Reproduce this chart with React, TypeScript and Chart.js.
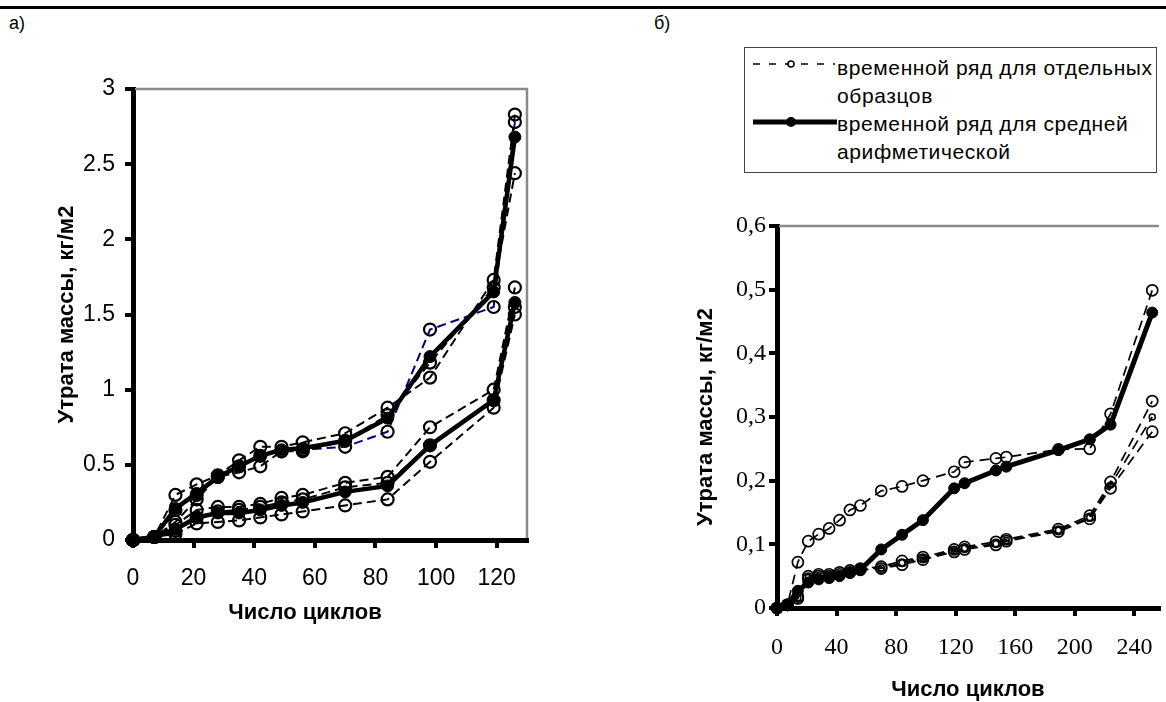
import React, { useEffect, useRef } from 'react';
import { Chart, registerables } from 'chart.js';

Chart.register(...registerables);

// ---------- Chart а) ----------
const cyclesA = [0, 7, 14, 21, 28, 35, 42, 49, 56, 70, 84, 98, 119, 126];
const upperA1 = [0, 0.02, 0.30, 0.37, 0.43, 0.53, 0.62, 0.62, 0.65, 0.71, 0.88, 1.08, 1.73, 2.83];
const upperA2 = [0, 0.02, 0.12, 0.27, 0.42, 0.45, 0.49, 0.59, 0.59, 0.66, 0.83, 1.18, 1.68, 2.44];
const upperA3 = [0, 0.02, 0.20, 0.30, 0.42, 0.49, 0.56, 0.59, 0.60, 0.62, 0.72, 1.40, 1.55, 2.78];
const upperMeanA = [0, 0.02, 0.21, 0.31, 0.42, 0.49, 0.56, 0.60, 0.61, 0.66, 0.81, 1.22, 1.65, 2.68];
const lowerA1 = [0, 0.02, 0.10, 0.20, 0.22, 0.22, 0.24, 0.28, 0.30, 0.38, 0.42, 0.75, 1.00, 1.68];
const lowerA2 = [0, 0.02, 0.06, 0.15, 0.19, 0.20, 0.22, 0.25, 0.27, 0.35, 0.38, 0.63, 0.93, 1.55];
const lowerA3 = [0, 0.02, 0.04, 0.11, 0.12, 0.13, 0.15, 0.17, 0.19, 0.23, 0.27, 0.52, 0.88, 1.50];
const lowerMeanA = [0, 0.02, 0.07, 0.15, 0.18, 0.18, 0.20, 0.23, 0.25, 0.32, 0.36, 0.63, 0.93, 1.58];
const xTicksA = [0, 20, 40, 60, 80, 100, 120];
const yTicksA = [0, 0.5, 1, 1.5, 2, 2.5, 3];
const yTickLabelsA = ['0', '0.5', '1', '1.5', '2', '2.5', '3'];

// ---------- Chart б) ----------
const cyclesB = [0, 7, 14, 21, 28, 35, 42, 49, 56, 70, 84, 98, 119, 126, 147, 154, 189, 210, 224, 252];
const upperB = [0, 0.005, 0.072, 0.105, 0.116, 0.125, 0.138, 0.154, 0.161, 0.184, 0.191, 0.200, 0.214, 0.229, 0.235, 0.237, 0.249, 0.250, 0.305, 0.499];
const lowerB1 = [0, 0.005, 0.015, 0.050, 0.053, 0.053, 0.056, 0.059, 0.062, 0.065, 0.074, 0.080, 0.092, 0.096, 0.104, 0.108, 0.124, 0.145, 0.198, 0.325];
const lowerB2 = [0, 0.005, 0.018, 0.046, 0.050, 0.050, 0.053, 0.056, 0.060, 0.062, 0.068, 0.076, 0.088, 0.092, 0.099, 0.105, 0.120, 0.140, 0.188, 0.277];
const lowerB3 = [0, 0.005, 0.016, 0.048, 0.051, 0.052, 0.054, 0.057, 0.061, 0.063, 0.071, 0.078, 0.090, 0.094, 0.101, 0.106, 0.122, 0.142, 0.193, 0.300];
const meanB = [0, 0.005, 0.027, 0.040, 0.045, 0.047, 0.050, 0.055, 0.060, 0.092, 0.115, 0.138, 0.188, 0.196, 0.216, 0.222, 0.248, 0.265, 0.288, 0.464];
const xTicksB = [0, 40, 80, 120, 160, 200, 240];
const yTicksB = [0, 0.1, 0.2, 0.3, 0.4, 0.5, 0.6];
const yTickLabelsB = ['0', '0,1', '0,2', '0,3', '0,4', '0,5', '0,6'];

const legendTexts = ['временной ряд для отдельных', 'образцов', 'временной ряд для средней', 'арифметической'];
const xTitle = 'Число циклов';
const yTitle = 'Утрата массы, кг/м2';

const SANS = '"Liberation Sans", Arial, Helvetica, sans-serif';
const SERIF = '"Liberation Serif", "Times New Roman", serif';
const TITLE_FONT = { family: SANS, size: 22, weight: 'bold' };

const frameBorder = {
  id: 'frameBorder',
  beforeDatasetsDraw(chart: any, _args: any, opts: any) {
    const { ctx, chartArea } = chart;
    const { left, top, right, bottom } = chartArea;
    ctx.save();
    ctx.strokeStyle = '#8a8a8a';
    ctx.lineWidth = 2.5;
    ctx.beginPath();
    ctx.moveTo(left + 2, top);
    ctx.lineTo(right, top);
    if (opts && opts.right) ctx.lineTo(right, bottom - 2);
    ctx.stroke();
    ctx.restore();
  },
};

function pts(xs: number[], ys: number[]) {
  return xs.map((x, i) => ({ x, y: ys[i] }));
}

function indiv(label: string, xs: number[], ys: number[], color: string, r: number, bw: number, lw: number, dash: number[]) {
  return {
    label,
    data: pts(xs, ys),
    borderColor: color,
    borderWidth: lw,
    borderDash: dash,
    pointRadius: r,
    pointBorderWidth: bw,
    pointBorderColor: '#000',
    pointBackgroundColor: 'rgba(0,0,0,0)',
    fill: false,
    tension: 0,
    clip: false,
  };
}

function mean(label: string, xs: number[], ys: number[], r: number, lw: number) {
  return {
    label,
    data: pts(xs, ys),
    borderColor: '#000',
    borderWidth: lw,
    pointRadius: r,
    pointBorderWidth: 1,
    pointBorderColor: '#000',
    pointBackgroundColor: '#000',
    fill: false,
    tension: 0,
    clip: false,
  };
}

function axisX(max: number, ticks: number[], labels: string[], height: number, tickFont: any, tickPad: number, title: any) {
  return {
    type: 'linear',
    min: 0,
    max,
    afterBuildTicks: (ax: any) => { ax.ticks = ticks.map((v) => ({ value: v })); },
    afterFit: (ax: any) => { ax.height = height; ax.paddingLeft = 0; ax.paddingRight = 0; },
    ticks: { color: '#000', font: tickFont, padding: tickPad, callback: (_v: any, i: number) => labels[i] },
    grid: { drawOnChartArea: false, drawTicks: true, tickLength: 8, color: '#000', lineWidth: 4 },
    border: { display: true, color: '#000', width: 5 },
    title,
  };
}

function axisY(max: number, ticks: number[], labels: string[], width: number, tickFont: any, tickPad: number, titlePad: number) {
  return {
    type: 'linear',
    min: 0,
    max,
    afterBuildTicks: (ax: any) => { ax.ticks = ticks.map((v) => ({ value: v })); },
    afterFit: (ax: any) => { ax.width = width; ax.paddingTop = 0; ax.paddingBottom = 0; },
    ticks: { color: '#000', font: tickFont, padding: tickPad, callback: (_v: any, i: number) => labels[i] },
    grid: { drawOnChartArea: false, drawTicks: true, tickLength: 8, color: '#000', lineWidth: 4 },
    border: { display: true, color: '#000', width: 5 },
    title: { display: true, text: yTitle, color: '#000', font: TITLE_FONT, padding: { top: titlePad, bottom: 0 } },
  };
}

export default function App() {
  const refA = useRef<HTMLCanvasElement>(null);
  const refB = useRef<HTMLCanvasElement>(null);

  useEffect(() => {
    document.body.style.margin = '0';
    const dashA = [9, 5];
    const chartA = new Chart(refA.current as HTMLCanvasElement, {
      type: 'line',
      data: {
        datasets: [
          mean('средняя (верх)', cyclesA, upperMeanA, 6, 4.5),
          mean('средняя (низ)', cyclesA, lowerMeanA, 6, 4.5),
          indiv('образец 1', cyclesA, upperA1, '#000', 6, 2.2, 2, dashA),
          indiv('образец 2', cyclesA, upperA2, '#000', 6, 2.2, 2, dashA),
          indiv('образец 3', cyclesA, upperA3, '#000080', 6, 2.2, 2, dashA),
          indiv('образец 4', cyclesA, lowerA1, '#000', 6, 2.2, 2, dashA),
          indiv('образец 5', cyclesA, lowerA2, '#000', 6, 2.2, 2, dashA),
          indiv('образец 6', cyclesA, lowerA3, '#000', 6, 2.2, 2, dashA),
        ] as any,
      },
      options: {
        animation: false,
        responsive: false,
        events: [],
        layout: { padding: { left: 40, top: 89, right: 33, bottom: 20 } },
        plugins: { legend: { display: false }, tooltip: { enabled: false }, frameBorder: { right: true } } as any,
        scales: {
          x: axisX(130, xTicksA, xTicksA.map(String), 90, { family: SANS, size: 23 }, 17, { display: false }),
          y: axisY(3, yTicksA, yTickLabelsA, 93, { family: SANS, size: 23 }, 10, 14),
        } as any,
      },
      plugins: [frameBorder as any],
    });

    const dashB = [10, 6];
    const chartB = new Chart(refB.current as HTMLCanvasElement, {
      type: 'line',
      data: {
        datasets: [
          mean('средняя арифметическая', cyclesB, meanB, 5.5, 5),
          indiv('образец 1', cyclesB, upperB, '#000', 5.5, 1.7, 1.7, dashB),
          indiv('образец 2', cyclesB, lowerB1, '#000', 5.5, 1.7, 1.7, dashB),
          indiv('образец 3', cyclesB, lowerB2, '#000', 5.5, 1.7, 1.7, dashB),
          indiv('образец 4', cyclesB, lowerB3, '#000', 3, 1.5, 1.7, dashB),
        ] as any,
      },
      options: {
        animation: false,
        responsive: false,
        events: [],
        layout: { padding: { left: 20, top: 46, right: 0, bottom: 0 } },
        plugins: { legend: { display: false }, tooltip: { enabled: false }, frameBorder: { right: false } } as any,
        scales: {
          x: axisX(256.4, xTicksB, xTicksB.map(String), 102, { family: SERIF, size: 24 }, 17.6,
            { display: true, text: xTitle, color: '#000', font: TITLE_FONT, padding: { top: 0, bottom: 6.8 } }),
          y: axisY(0.6, yTicksB, yTickLabelsB, 97, { family: SERIF, size: 24 }, 3, 12.8),
        } as any,
      },
      plugins: [frameBorder as any],
    });

    return () => {
      chartA.destroy();
      chartB.destroy();
    };
  }, []);

  return (
    <div style={{ position: 'relative', width: 1166, height: 702, overflow: 'hidden', background: '#fff', fontFamily: SANS, color: '#000' }}>
      <div style={{ position: 'absolute', left: 0, top: 6, width: 1166, height: 3, background: '#000' }} />
      <div style={{ position: 'absolute', left: 9, top: 12, fontSize: 18, lineHeight: '22px' }}>а)</div>
      <div style={{ position: 'absolute', left: 654, top: 12, fontSize: 18, lineHeight: '22px' }}>б)</div>

      <canvas ref={refA} width={560} height={650} style={{ position: 'absolute', left: 0, top: 0, width: 560, height: 650 }} />
      <div style={{ position: 'absolute', left: 205, top: 598, width: 200, textAlign: 'center', fontSize: 22, fontWeight: 'bold', lineHeight: '28px', whiteSpace: 'nowrap' }}>{xTitle}</div>

      <canvas ref={refB} width={506} height={530} style={{ position: 'absolute', left: 660, top: 180, width: 506, height: 530 }} />

      <div style={{ position: 'absolute', left: 744, top: 47, width: 413, height: 126, boxSizing: 'border-box', border: '1.5px solid #444', background: '#fff' }}>
        <svg width={90} height={124} style={{ position: 'absolute', left: 4, top: 0 }}>
          <line x1={4} y1={16} x2={86} y2={16} stroke="#000" strokeWidth={1.5} strokeDasharray="7 9" />
          <circle cx={42} cy={16} r={3} fill="#fff" stroke="#000" strokeWidth={1.5} />
          <line x1={4} y1={74} x2={88} y2={74} stroke="#000" strokeWidth={5} />
          <circle cx={42} cy={74} r={5} fill="#000" />
        </svg>
        {legendTexts.map((t, i) => (
          <div key={i} style={{ position: 'absolute', left: 92, top: 6 + i * 28, fontSize: 21, lineHeight: '28px', letterSpacing: 0.6, whiteSpace: 'nowrap' }}>{t}</div>
        ))}
      </div>
    </div>
  );
}
